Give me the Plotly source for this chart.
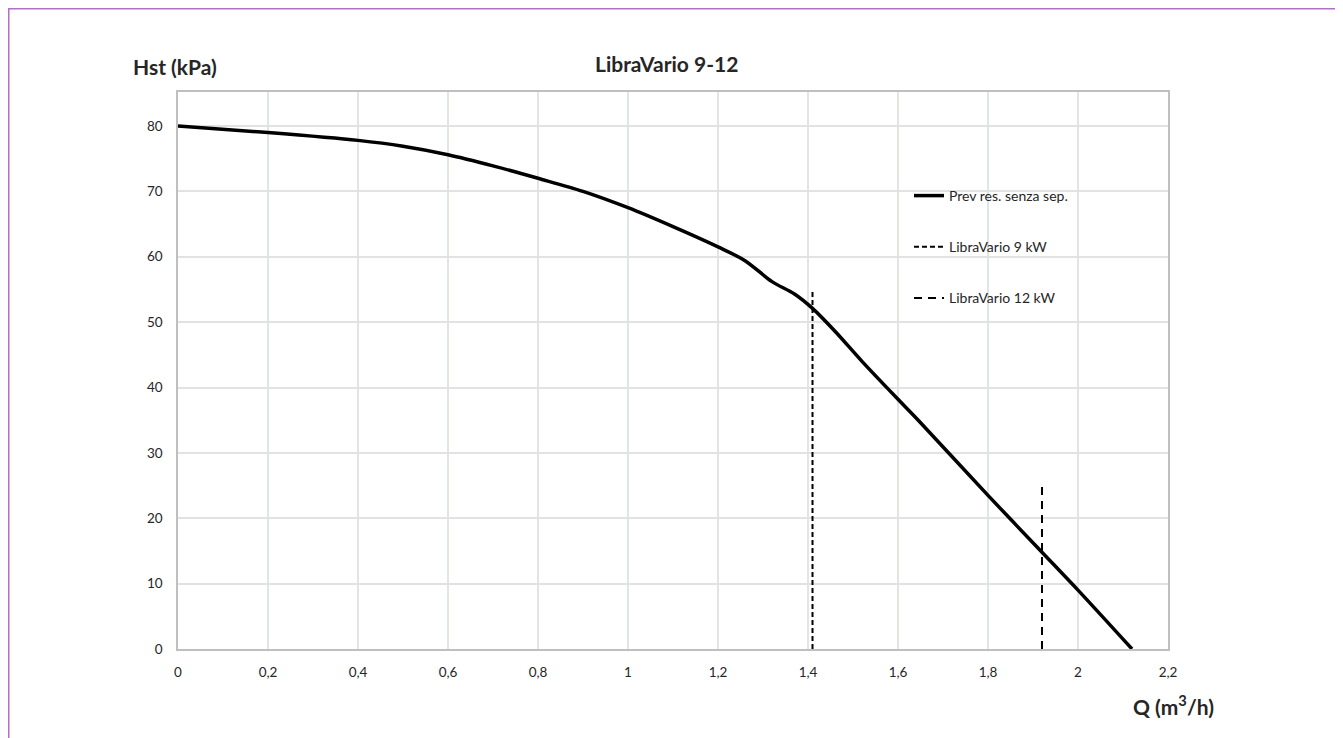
import plotly.graph_objects as go

# Data
q_curve = [0, 0.2, 0.4, 0.5, 0.6, 0.7, 0.8, 0.9, 1.0, 1.1, 1.2, 1.26, 1.32, 1.37, 1.41, 1.46, 1.52, 1.6, 1.645, 1.8, 1.92, 2.0, 2.12]
h_curve = [80, 79, 77.8, 76.9, 75.6, 73.9, 72, 70, 67.5, 64.6, 61.5, 59.4, 56.2, 54.3, 52.1, 48.6, 44.0, 38.2, 35.0, 23.5, 14.8, 9, 0]
q_9kw = [1.41, 1.41]
h_9kw = [0, 55]
q_12kw = [1.92, 1.92]
h_12kw = [0, 25]
x_ticks = [0, 0.2, 0.4, 0.6, 0.8, 1, 1.2, 1.4, 1.6, 1.8, 2, 2.2]
y_ticks = [0, 10, 20, 30, 40, 50, 60, 70, 80]

FONT = "Lato"
TXT = "#262626"
fig = go.Figure()
fig.add_trace(go.Scatter(x=q_curve, y=h_curve, mode="lines", name="Prev res. senza sep.",
                         line=dict(color="black", width=3.5, shape="spline", smoothing=0.9),
                         legendgroup="a"))
fig.add_trace(go.Scatter(x=q_9kw, y=h_9kw, mode="lines", name="LibraVario 9 kW",
                         line=dict(color="black", width=2, dash="5px,3px"), legendgroup="b"))
fig.add_trace(go.Scatter(x=q_12kw, y=h_12kw, mode="lines", name="LibraVario 12 kW",
                         line=dict(color="black", width=2, dash="8px,6px"), legendgroup="c"))

# page coords -> paper coords helpers (page offset of 8px body margin accounted for in margins)
def px(X):
    return (X - 178) / 990.0

def py(Y):
    return (649 - Y) / 557.0

fig.update_layout(
    width=1335, height=730,
    margin=dict(l=170, r=175, t=84, b=89),
    paper_bgcolor="white", plot_bgcolor="white",
    separators=", ",
    font=dict(family=FONT, size=13.5, color=TXT),
    showlegend=True,
    legend=dict(x=px(909), y=py(180), xanchor="left", yanchor="top", tracegroupgap=30,
                bgcolor="rgba(0,0,0,0)", font=dict(size=14, family=FONT, color=TXT)),
    xaxis=dict(range=[0, 2.2], tickvals=x_ticks, showgrid=True, gridcolor="#e2e6e2", gridwidth=1.5,
               showline=True, linecolor="#bfbfbf", linewidth=1.5, mirror=True, zeroline=False,
               ticks="", ticklabelstandoff=10, tickfont=dict(size=13.5, family=FONT, color=TXT)),
    yaxis=dict(range=[0, 85.2], tickvals=y_ticks, showgrid=True, gridcolor="#e2e2e2", gridwidth=1.5,
               showline=True, linecolor="#bfbfbf", linewidth=1.5, mirror=True, zeroline=False,
               ticks="", ticklabelstandoff=11, tickfont=dict(size=13.5, family=FONT, color=TXT)),
    annotations=[
        dict(text="<b>LibraVario 9-12</b>", xref="paper", yref="paper", x=px(666), y=py(63),
             xanchor="center", yanchor="middle", showarrow=False, font=dict(size=21, family=FONT, color=TXT)),
        dict(text="<b>Hst (kPa)</b>", xref="paper", yref="paper", x=px(175), y=py(67),
             xanchor="center", yanchor="middle", showarrow=False, font=dict(size=21, family=FONT, color=TXT)),
        dict(text="<b>Q (m<sup>3</sup>/h)</b>", xref="paper", yref="paper", x=px(1173), y=py(705),
             xanchor="center", yanchor="middle", showarrow=False, font=dict(size=21, family=FONT, color=TXT)),
    ],
    shapes=[
        dict(type="rect", xref="paper", yref="paper",
             x0=px(8.75), x1=px(1341.5), y0=py(760), y1=py(8.75),
             line=dict(color="#b36fc4", width=1.5), fillcolor="rgba(0,0,0,0)", layer="below"),
    ],
)

fig.write_html("out.html")
